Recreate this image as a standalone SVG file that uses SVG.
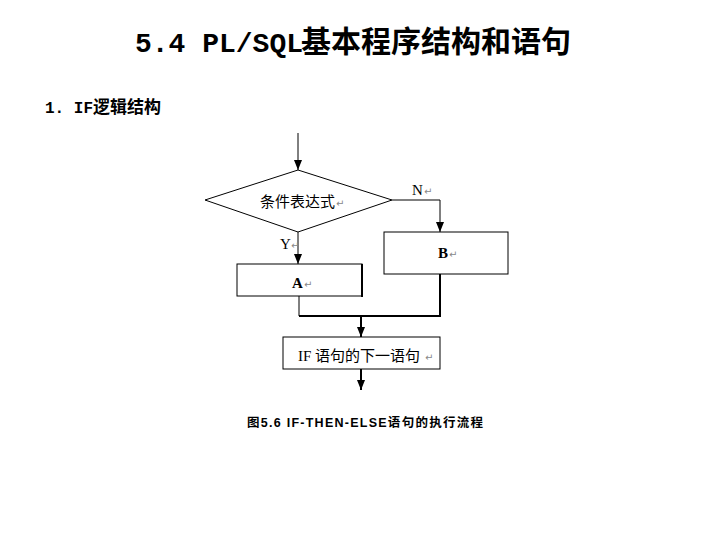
<svg xmlns="http://www.w3.org/2000/svg" width="720" height="540" viewBox="0 0 720 540">
<style>
.ln{stroke:#000;stroke-width:1;fill:none}
.thk{stroke:#000;stroke-width:2;fill:none}
.box{fill:#fff;stroke:#000;stroke-width:1}
.lbl{font-family:"Liberation Serif","Noto Sans CJK SC",serif;font-size:15px;fill:#000}
.cjk{font-family:"Noto Sans CJK SC",sans-serif;font-size:15px;fill:#000}
.ret{font-family:"DejaVu Sans",sans-serif;font-size:10px;fill:#888}
</style>
<defs>
<marker id="ah" markerWidth="10" markerHeight="10" viewBox="0 0 10 10" refX="10" refY="5" orient="auto" markerUnits="userSpaceOnUse">
<path d="M0,1 L10,5 L0,9 Z" fill="#000"/>
</marker>
</defs>
<rect width="720" height="540" fill="#fff"/>
<text x="135" y="52" font-weight="bold"><tspan font-family="Liberation Mono,monospace" font-size="28">5.4 PL/SQL</tspan><tspan font-family="Noto Sans CJK SC,sans-serif" font-size="30" dx="-2">基本程序结构和语句</tspan></text>
<text x="45" y="113" font-weight="bold"><tspan font-family="Liberation Mono,monospace" font-size="16">1. IF</tspan><tspan font-family="Noto Sans CJK SC,sans-serif" font-size="17">逻辑结构</tspan></text>
<g id="connectors">
<path class="ln" d="M298,133 V170" marker-end="url(#ah)"/>
<path class="ln" d="M392,200 H440 V232" marker-end="url(#ah)"/>
<path class="ln" d="M298,232 V264" marker-end="url(#ah)"/>
<path class="ln" d="M299,296 V316"/>
<path class="thk" d="M299,316 H440 V274"/>
<path class="thk" d="M361,316 V337" marker-end="url(#ah)"/>
<path class="thk" d="M361,369 V390" marker-end="url(#ah)"/>
</g>
<g id="cond">
<polygon class="box" points="298,170 392,200 298,232 205,200"/>
<text class="cjk" x="260" y="207">条件表达式</text><text class="ret" x="336" y="207">↵</text>
</g>
<g id="labelN"><text class="lbl" x="412" y="195">N</text><text class="ret" x="424" y="195">↵</text></g>
<g id="labelY"><text class="lbl" x="280" y="249">Y</text><text class="ret" x="291" y="249">↵</text></g>
<g id="boxB">
<rect class="box" x="384" y="232" width="124" height="42"/>
<text class="lbl" x="438" y="258" font-weight="bold">B</text><text class="ret" x="449" y="258">↵</text>
</g>
<g id="boxA">
<rect class="box" x="237" y="264" width="125" height="32"/>
<line x1="362" y1="264" x2="362" y2="297" stroke="#000" stroke-width="2"/>
<text class="lbl" x="292" y="288" font-weight="bold">A</text><text class="ret" x="304" y="288">↵</text>
</g>
<g id="boxNext">
<rect class="box" x="283" y="337" width="157" height="32"/>
<text x="298" y="361"><tspan class="lbl" font-size="14">IF </tspan><tspan class="cjk">语句的下一语句</tspan></text><text class="ret" x="425" y="361">↵</text>
</g>
<text x="247" y="427" font-family="Liberation Sans,Noto Sans CJK SC,sans-serif" font-size="12.5" font-weight="bold" textLength="236">图5.6  IF-THEN-ELSE语句的执行流程</text>
</svg>
